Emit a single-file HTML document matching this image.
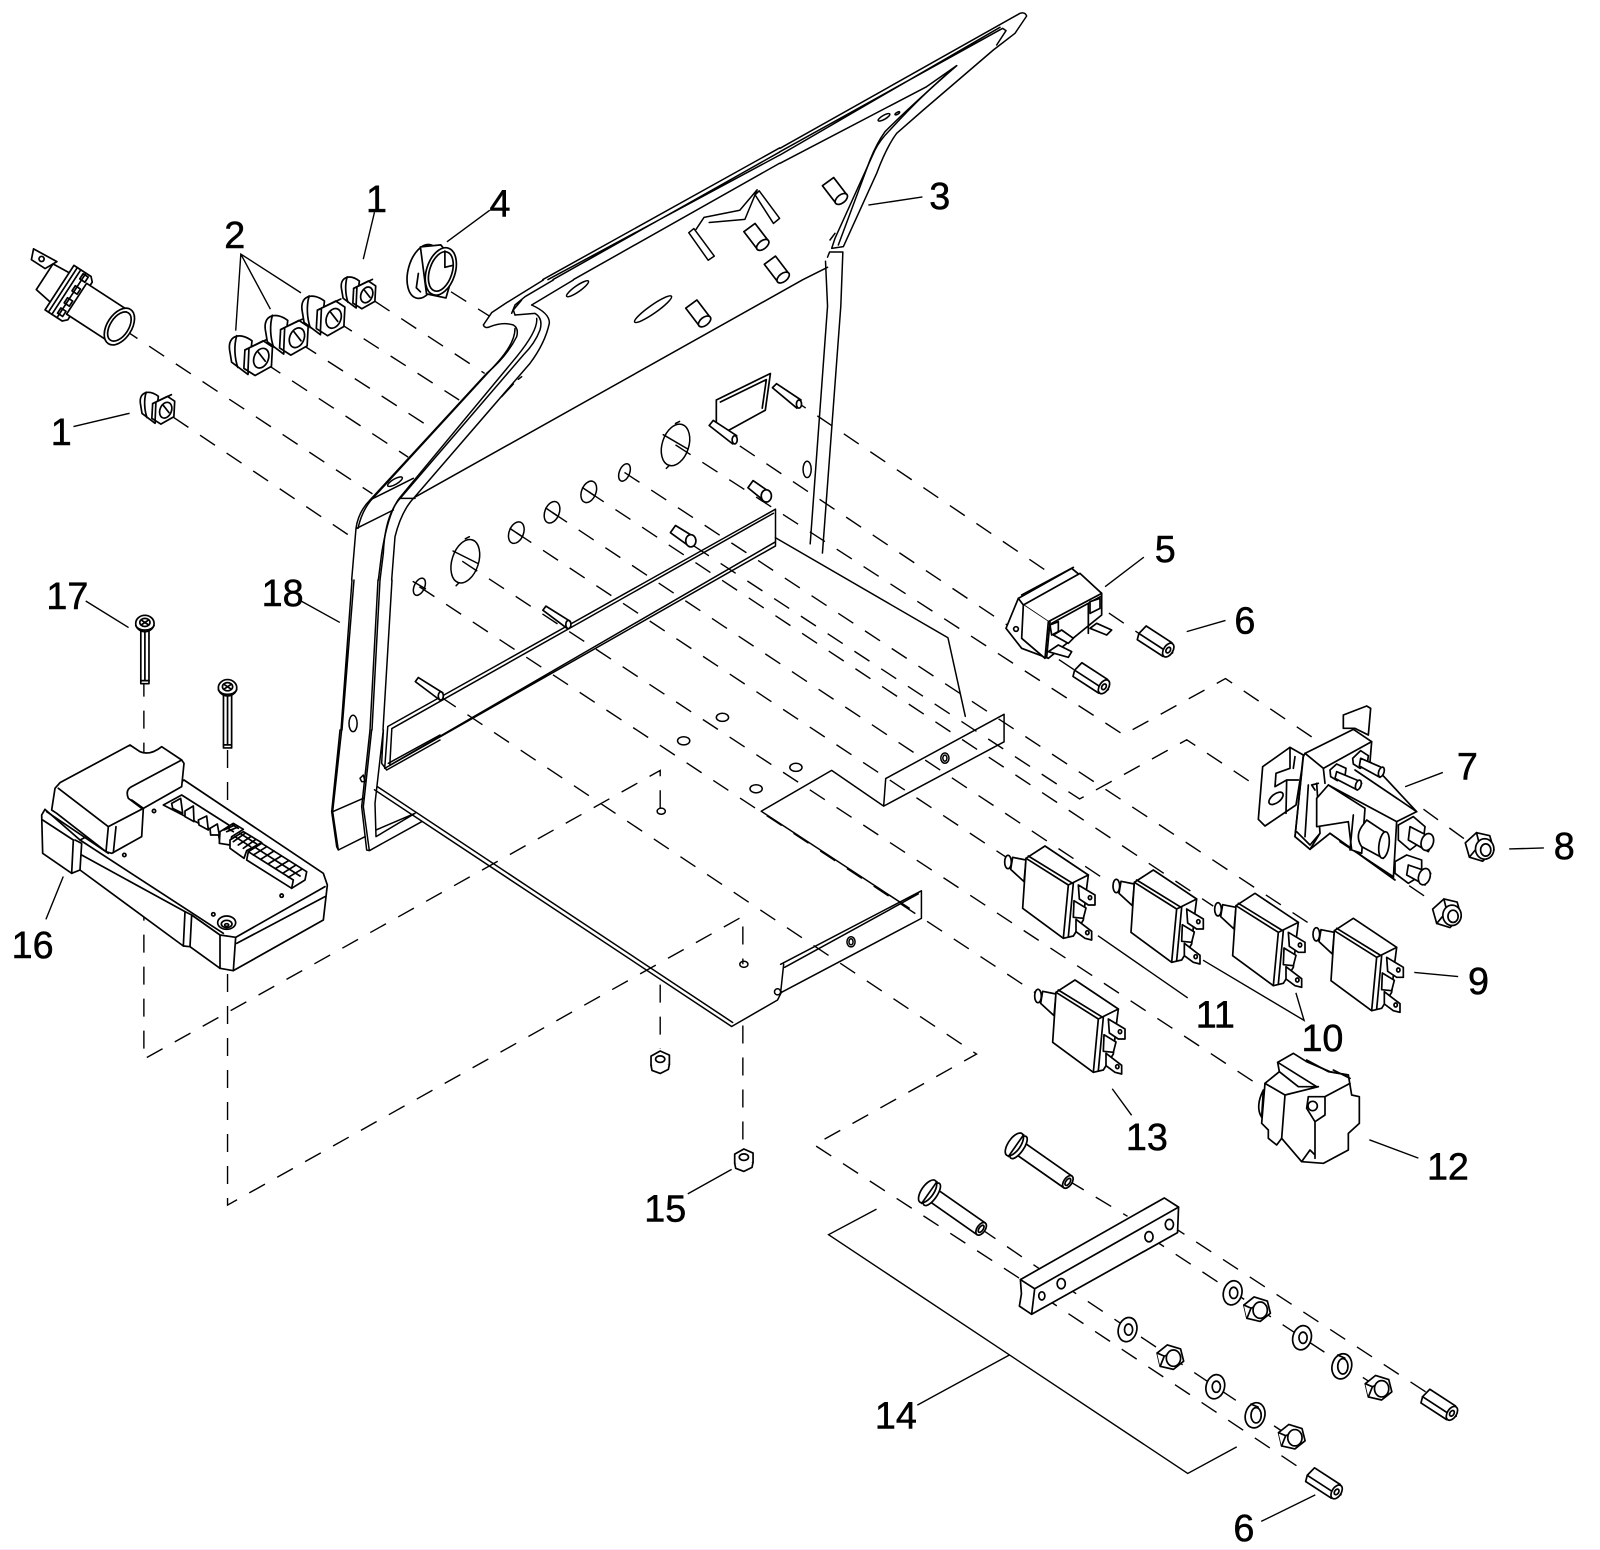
<!DOCTYPE html>
<html><head><meta charset="utf-8"><style>
html,body{margin:0;padding:0;background:#fff}
svg{display:block}
svg *{vector-effect:non-scaling-stroke}
.d{fill:none;stroke:#000;stroke-width:1.4;stroke-dasharray:18 14}
.l{fill:none;stroke:#000;stroke-width:1.4}
.p{fill:none;stroke:#000;stroke-width:1.5;stroke-linejoin:round;stroke-linecap:round}
.w{fill:#fff;stroke:#000;stroke-width:1.7;stroke-linejoin:round;stroke-linecap:round}
.w path,.w polygon,.w ellipse,.w circle,.w rect{fill:#fff}
.w path.n{fill:none}
text{font-family:"Liberation Sans",sans-serif;font-size:37px;fill:#000;stroke:#000;stroke-width:.5;text-anchor:middle}
</style></head><body>
<svg width="1600" height="1550" viewBox="0 0 1600 1550" xmlns="http://www.w3.org/2000/svg">
<defs>
<g id="bush"><path d="M-6-17C-18-26-30-22-28-8L-26 4-10 16Z"/><path class="n" d="M-21-22C-24-12-23 0-20 9"/><polygon points="-13,-8 5,-17 14,-11 13,8 -3,17 -14,10"/><path class="n" d="M-9-10L-10 13M-13-8L-9-10 10-19"/><ellipse cx="3" cy="0" rx="7" ry="10" transform="rotate(22 3 0)"/><path class="n" d="M0-6L7 3"/></g>
<g id="cyl"><path d="M-11-3L0-11 13 6 2 14Z"/><ellipse cx="7.500" cy="10" rx="7" ry="4" transform="rotate(-38 7.500 10)"/></g>
<g id="nut"><polygon points="-9,-4 0,-9 9,-5 9,4 0,9 -9,5"/><path class="n" d="M-9 5L-8 10 0 13 8 9 9 4"/><ellipse cx="0" cy="-1" rx="4.500" ry="3.200"/></g>
<g id="lnut"><polygon points="-15,-4 -4,-14 9,-11 13,3 2,14 -11,10"/><path class="n" d="M-4-14L-1-2-11 10M-1-2L13 3"/><ellipse cx="4" cy="2" rx="9" ry="10"/><ellipse cx="5" cy="3" rx="5" ry="6"/></g>
<g id="hex"><polygon points="-13,-4 -3,-12 10,-8 13,4 3,12 -10,9"/><path class="n" d="M-13-4L-6-1-10 9M-6-1L-1-3"/><ellipse cx="3" cy="1" rx="7" ry="8"/></g>
<g id="wash"><ellipse rx="9" ry="12" transform="rotate(15)"/><ellipse cx="1" rx="4" ry="5.500"/></g>
<g id="lock"><ellipse rx="9.500" ry="12.500" transform="rotate(15)"/><ellipse cx="1" rx="5" ry="7.500"/><path class="n" d="M-4-11L3-8"/></g>
<g id="stand"><path d="M-18-8L12-8 18 0 12 8-18 8-20 2Z"/><path class="n" d="M-20 2L12 2"/><ellipse cx="13" rx="4.500" ry="7.500"/><ellipse cx="13" rx="2" ry="3"/></g>
<g id="bolt"><path d="M0-7L58-7 58 7 0 7Z"/><ellipse cx="58" rx="4" ry="7"/><ellipse cx="58" rx="2" ry="4"/><ellipse cx="-1" rx="5" ry="13"/><ellipse cx="-6" rx="6" ry="13"/><path class="n" d="M-4-13L-4 13"/></g>
<g id="screw"><rect x="-4" y="4" width="8" height="55"/><path class="n" d="M-4 56H4M0 6V56"/><ellipse rx="9" ry="8"/><path class="n" d="M-9 2C-6 8 6 8 9 2"/><ellipse cy="-1" rx="5" ry="4"/><path class="n" d="M-3-3L3 1M3-3L-3 1"/></g>
<g id="brk">
<ellipse cx="24" cy="96" rx="10" ry="20"/>
<path d="M38 82L78 90 72 155 32 118Z"/>
<path d="M78 85L135 48 265 135 258 190 250 270 220 318 190 325 68 235Z"/>
<path class="n" d="M78 85L205 165 190 325M85 78L215 158M205 165L265 135M220 160L205 320"/>
<path d="M235 165L285 195 285 225 265 225 238 207Z"/>
<ellipse cx="270" cy="203" rx="5" ry="6"/>
<path d="M222 212L258 234 250 265 220 262Z"/>
<path d="M228 268L275 304 275 330 255 325 228 305Z"/>
<ellipse cx="262" cy="308" rx="5" ry="6"/>
</g>
</defs>
<rect width="1600" height="1550" fill="#fff"/>
<rect x="0" y="1549" width="1600" height="1" fill="#fbe6fb"/>

<g transform="scale(1.0204)">
<!-- dashed -->
<path class="d" d="M120 322L365 484M170 409L347 528M260 356L400 448M295 337L425 421M330 315L450 392M367 295L475 366M442 286L480 310
M775 390L1118 622M725 437L1058 660M662 436L1101 720 1201 665 1300 732M680 535L1058 783 1163 725 1228 768
M1395 793L1439 825M1381 868L1406 885
M411 575L1024 979M453 550L1236 1065M506 522L989 842M541 502L1089 866M577 482L1189 888M612 463L1286 907
M432 683L957 1033 798 1122 1001 1254M961 1204L1040 1258M1047 1157L1105 1192
M1040 1258L1266 1409M1021 1270L1294 1452M1126 1212L1351 1360M1146 1200L1414 1375
M141 665V1038L647 755V795M647 965V1028M223 735V1181L728 898V945M728 1005V1125"/>

<!-- panel and floor -->
<g class="p">
<path d="M532 274L764 145M542 274L764 149M537 274L764 152M562 274L764 160"/>
<path d="M407 487L787 274 811 262M811 252L813 247 826 247 824 300 806 542M809 256L811 300 794 533"/>
<path d="M367 774L717 1006 762 980 766 972M370 771L718 1002"/>
<path d="M765 945L903 873 903 900 765 973 768 945M769 948L900 876"/>
<path d="M380 712L760 499 760 535 377 753ZM384 714L382 750M384 714L758 503M382 750L760 531"/>
<path d="M760 527L929 625 946 702M868 763L984 700 984 727 866 790 868 763M866 790L815 755 746 795 891 890"/>
<ellipse cx="411" cy="575" rx="5" ry="9" transform="rotate(25 411 575)"/><path d="M405 570L417 577"/>
<ellipse cx="456" cy="550" rx="13" ry="22" transform="rotate(18 456 550)"/><path d="M444 540L468 552M456 528L460 526M450 571L447 574"/>
<ellipse cx="506" cy="522" rx="7" ry="11" transform="rotate(22 506 522)"/><path d="M500 518L512 526"/>
<ellipse cx="541" cy="502" rx="7" ry="11" transform="rotate(22 541 502)"/><path d="M535 498L547 506"/>
<ellipse cx="577" cy="482" rx="7" ry="11" transform="rotate(22 577 482)"/><path d="M571 478L583 486"/>
<ellipse cx="612" cy="463" rx="5" ry="9" transform="rotate(22 612 463)"/>
<ellipse cx="662" cy="436" rx="13" ry="21" transform="rotate(18 662 436)"/><path d="M650 426L674 440M662 415L666 413M656 456L653 459"/>
<ellipse cx="346" cy="709" rx="4" ry="8"/><ellipse cx="791" cy="460" rx="4" ry="8"/>
<ellipse cx="926" cy="743" rx="4" ry="5"/><ellipse cx="926" cy="743" rx="2" ry="3"/><ellipse cx="834" cy="923" rx="4" ry="5"/><ellipse cx="834" cy="923" rx="2" ry="3"/><circle cx="762" cy="972" r="3"/>
<ellipse cx="708" cy="703" rx="6" ry="4"/><ellipse cx="670" cy="726" rx="6" ry="4"/><ellipse cx="780" cy="752" rx="6" ry="4"/><ellipse cx="741" cy="773" rx="6" ry="4"/><ellipse cx="648" cy="795" rx="4" ry="3"/><ellipse cx="729" cy="945" rx="4" ry="3"/>
<ellipse cx="566" cy="283" rx="13" ry="3" transform="rotate(-35 566 283)"/><ellipse cx="640" cy="303" rx="22" ry="4" transform="rotate(-35 640 303)"/>
<path d="M682 225L690 213 725 206 742 186 730 215 695 218"/>
<path d="M675 228L680 224 700 251 694 255ZM740 191L744 187 764 214 758 219Z"/>
</g>
<g class="w">
<use href="#cyl" x="683" y="305"/><use href="#cyl" x="740" y="230"/><use href="#cyl" x="760" y="262"/><use href="#cyl" x="817" y="185"/>
<path class="n" d="M702 392L755 366 750 402 710 424M702 392V417M706 394L751 372 747 400"/>
<path d="M695 417L699 412 722 427 718 435Z"/><ellipse cx="720" cy="431" rx="2.500" ry="4"/>
<path d="M757 380L761 376 785 392 781 400Z"/><ellipse cx="783" cy="396" rx="2.500" ry="4"/>
<path d="M532 598L535 594 559 609 556 616Z"/><ellipse cx="557" cy="612" rx="2.500" ry="4"/>
<path d="M407 668L410 664 434 679 431 686Z"/><ellipse cx="432" cy="682" rx="2.500" ry="4"/>
<path d="M657 522L662 515 680 526 675 535Z"/><ellipse cx="677" cy="530" rx="5" ry="6"/>
<path d="M733 478L738 471 754 482 749 491Z"/><ellipse cx="751" cy="486" rx="5" ry="6"/>
</g>
<!-- leaders -->
<path class="l" d="M367 208L356 254M231 324L236 249 295 287M236 249L265 303M480 206L438 237M72 418L127 405M904 193L851 201M84 589L126 615M295 589L333 610M1121 546L1083 575M1201 608L1163 619M1414 757L1377 771M1513 831L1479 832M1429 957L1386 953M1164 978L1076 917M1179 941L1278 1000 1270 973M1109 1093L1090 1067M1390 1135L1342 1117M859 1185L812 1210 1164 1444 1212 1418M899 1377L989 1328M1236 1491L1289 1465M674 1170L717 1146M45 901L62 859"/>
<!-- small parts -->
<g class="w">
<use href="#bush" x="253" y="351"/><use href="#bush" x="288" y="331"/><use href="#bush" x="324" y="312"/>
<use href="#bush" transform="translate(357 289) scale(.8)"/><use href="#bush" transform="translate(160 402) scale(.8)"/>
<g transform="translate(117 320) rotate(33)">
<path d="M-92-8L-108-8-112-18-86-20Z"/><circle cx="-100" cy="-14" r="2.500"/>
<path d="M-88-16L-62-18-62 18-88 14Z"/>
<path d="M-70-26L-50-26-46-22-46 22-50 26-70 26Z"/>
<path class="n" d="M-66-26V26M-62-26V26M-56-26V26"/>
<path d="M-50-18L0-18 0 18-50 18Z"/>
<path class="n" d="M-58-24h6v6h-6zM-58-10h6v6h-6zM-58 4h6v6h-6zM-58 16h6v6h-6z"/>
<ellipse rx="12" ry="20"/><ellipse rx="9" ry="16"/>
</g>
<ellipse cx="415" cy="266" rx="15" ry="27" transform="rotate(15 415 266)"/>
<path d="M412 242L432 240 447 258 437 292 418 288Z"/>
<ellipse cx="432" cy="266" rx="14" ry="24" transform="rotate(18 432 266)"/>
<ellipse cx="432" cy="266" rx="11" ry="20" transform="rotate(18 432 266)"/>
<path class="n" d="M410 268L408 282 412 286M436 246L436 262 444 260"/>
<use href="#stand" transform="translate(1134 630) rotate(33)"/><use href="#stand" transform="translate(1071 666) rotate(33)"/>
<use href="#lnut" x="1451" y="830"/><use href="#lnut" x="1419" y="895"/>
<use href="#nut" x="647" y="1039"/><use href="#nut" x="729" y="1135"/>
<use href="#screw" x="142" y="611"/><use href="#screw" x="223" y="674"/>
<use href="#bolt" transform="translate(914 1171) rotate(35)"/><use href="#bolt" transform="translate(999 1125) rotate(35)"/>
<path d="M1000 1254L1141 1174 1155 1183 1154 1208 1011 1288 999 1280 1001 1268Z"/>
<path class="n" d="M1000 1254L1014 1263 1155 1183M1014 1263L1011 1288"/>
<ellipse cx="1040" cy="1258" rx="4" ry="5"/><ellipse cx="1021" cy="1270" rx="3" ry="4"/><ellipse cx="1126" cy="1212" rx="4" ry="5"/><ellipse cx="1146" cy="1200" rx="4" ry="5"/>
<use href="#wash" x="1208" y="1267"/><use href="#wash" x="1276" y="1311"/><use href="#wash" x="1105" y="1303"/><use href="#wash" x="1191" y="1359"/>
<use href="#lock" x="1315" y="1339"/><use href="#lock" x="1230" y="1387"/>
<use href="#hex" x="1232" y="1283"/><use href="#hex" x="1351" y="1360"/><use href="#hex" x="1147" y="1330"/><use href="#hex" x="1266" y="1408"/>
<use href="#stand" transform="translate(1412 1378) rotate(33)"/><use href="#stand" transform="translate(1299 1455) rotate(33)"/>
</g>
<!-- labels -->
<text x="369" y="208">1</text><text x="230" y="243">2</text><text x="490" y="212">4</text><text x="921" y="205">3</text>
<text x="60" y="436">1</text><text x="1142" y="551">5</text><text x="1220" y="621">6</text><text x="1438" y="764">7</text>
<text x="1533" y="842">8</text><text x="1449" y="974">9</text><text x="1296" y="1030">10</text><text x="1191" y="1007">11</text>
<text x="1419" y="1156">12</text><text x="1124" y="1127">13</text><text x="878" y="1400">14</text><text x="652" y="1197">15</text>
<text x="32" y="939">16</text><text x="66" y="597">17</text><text x="277" y="594">18</text><text x="1219" y="1510">6</text>
</g>

<!-- panel uprights in source px -->
<path class="p" d="M352 580L341 730M354 580L342 730M378 580L370 730M380 580L372 730M392 580L383 730"/>

<!-- hook and diagonal flanges -->
<g class="p" transform="translate(340 280) scale(.33333)">
<path d="M610 0L500 68 455 98 430 135Q435 147 450 140Q490 125 520 135Q537 145 530 170Q500 230 440 280L90 660Q55 695 48 745L35 900"/>
<path d="M525 145Q525 190 470 250L92 662Q65 695 54 745"/>
<path d="M525 105L585 100Q610 115 600 150Q585 190 550 225L185 650Q135 700 130 820L120 900"/>
<path d="M575 75Q630 100 628 130Q615 190 570 250L225 650Q185 690 165 770L155 900"/>
<path d="M590 115Q595 150 530 230L180 652Q145 695 125 820L115 900"/>
<path d="M525 105L520 90 545 60M515 100L525 75 555 50 640 0M575 75L700 0"/>
<path d="M50 745L160 690M90 660L220 595M180 655L225 655"/>
<ellipse cx="165" cy="605" rx="25" ry="8" transform="rotate(-30 165 605)"/>
<path d="M485 350L520 312M535 298L545 290"/>
</g>

<!-- top right flange -->
<g class="p" transform="translate(780 0) scale(.33333)">
<path d="M0 445L720 40Q735 35 740 48L705 100 640 150 430 330 350 400Q320 440 290 520L190 740 155 745 165 715 285 450Q300 420 330 390Q430 280 530 197L440 260 0 490"/>
<path d="M0 455L668 85 678 92 650 135M0 465L660 82M530 197Q400 310 315 395Q290 430 270 480L175 735M150 720L165 700"/>
<ellipse cx="312" cy="352" rx="20" ry="6" transform="rotate(-30 312 352)"/><ellipse cx="352" cy="340" rx="8" ry="3" transform="rotate(-30 352 340)"/>
</g>

<!-- feet -->
<g class="p" transform="translate(320 730) scale(.33333)">
<path d="M65 0L38 245 55 360 135 320M60 0L35 245 50 350 55 360M38 245L130 205"/>
<path d="M150 0L125 230 140 360 148 362 305 275M155 0L130 230 148 362M190 0L165 220 168 320 285 250M168 300L285 250"/>
<path d="M120 145L130 135 135 155 125 155Z"/>
<path d="M190 0L185 100 200 120 360 30M205 100L360 15"/>
</g>

<!-- part 5 -->
<g class="w" transform="translate(990 550) scale(.33333)">
<path d="M48 235L85 145 245 55 335 130 335 195 175 325 95 295Z"/>
<path d="M100 165L270 70 335 130 175 215Z"/>
<path d="M100 165L95 265 165 325 175 215"/>
<path class="n" d="M85 145L100 165M95 135L250 52M180 215L170 322M185 220L335 138M295 160L295 250"/>
<path d="M180 225L205 215 205 245 185 255Z"/><path d="M300 155L330 145 330 175 300 190Z"/>
<path d="M190 255L215 240 250 265 235 280Z"/><path d="M300 235L320 220 365 240 350 255Z"/><path d="M175 305L205 285 245 305 235 322Z"/>
<circle cx="78" cy="237" r="7"/>
</g>

<!-- ECU -->
<g class="w" transform="translate(30 730) scale(.33333)">
<path d="M45 238L35 255 38 370 125 430 150 420 460 648 480 650 570 715 610 722 880 570 892 465 880 430 462 150 340 235 150 330Z"/>
<path class="n" d="M38 270L130 330 125 430M135 330L155 340 150 420M155 375L465 545 460 648M465 545L485 555 480 650M485 555L570 615 617 622 885 470M570 615L570 715M617 622L610 722M620 640L885 500M50 245L235 370M150 330L580 610"/>
<path d="M90 158L300 45 330 65Q360 78 395 50L455 90 462 100 455 170 340 235 335 320 245 370 228 365 80 250 65 240 75 175Z"/>
<path class="n" d="M85 175L235 290 340 235M235 290L228 365M258 290L250 368M305 170L455 90M305 170Q285 180 295 205L335 235M305 210L340 235"/>
<path d="M400 225L455 195 620 300 570 340 565 310Z"/>
<path d="M425 220L452 205 458 250 428 235ZM465 243L490 228 492 275 465 260ZM505 270L530 258 535 300 507 285ZM540 295L562 282 568 315 542 315Z"/>
<path d="M570 305L610 280 640 298 605 320 600 345 568 340Z"/>
<path class="n" d="M590 293L610 305M605 283L625 295M582 300L615 285M590 305L622 292"/>
<path d="M600 330L640 305 695 338 650 362 642 385 600 355Z"/>
<path class="n" d="M615 320L662 350M630 310L680 342M610 335L645 310M625 345L662 320M640 355L675 330"/>
<path d="M655 365L695 340 830 425 825 450 785 475 650 390Z"/>
<path class="n" d="M675 352L810 438M655 365L790 450 785 475M670 375L710 350M692 388L732 363M714 402L754 378M736 416L776 392M758 430L798 405M775 442L815 418"/>
<circle cx="372" cy="243" r="5"/><circle cx="283" cy="375" r="5"/><circle cx="755" cy="497" r="5"/><circle cx="550" cy="553" r="5"/>
<ellipse cx="590" cy="578" rx="27" ry="20"/><ellipse cx="590" cy="582" rx="16" ry="11"/><ellipse cx="590" cy="585" rx="6" ry="4"/>
</g>

<!-- solenoid -->
<g class="w" transform="translate(1240 690) scale(.33333)">
<path d="M310 75L380 48 392 55 385 135 345 115 310 115Z"/>
<path d="M68 230L150 172 190 195 185 240 168 345 75 408 55 388Z"/>
<path class="n" d="M150 172L150 235 108 250 105 290 140 270 175 270M140 270L138 370M165 200L160 235"/>
<ellipse cx="108" cy="325" rx="25" ry="13" transform="rotate(-38 108 325)"/>
<path d="M195 190L340 118 395 155 390 215 530 365 470 395 460 565 270 430 210 478 165 440 190 200Z"/>
<path class="n" d="M195 190L250 235 395 155M250 235L255 280M345 240L530 365M265 285L470 395M185 245L165 440M230 280L240 430 210 478M205 285L195 440M170 425L210 465 240 430M270 430L465 570M300 455L460 560"/>
<path d="M230 325L265 285 375 355 365 490 335 480 325 395 230 410Z"/>
<path class="n" d="M340 375L330 480M225 300L215 285 235 280"/>
<path d="M365 410Q345 440 365 470L430 505 440 430 380 390Z"/>
<ellipse cx="432" cy="465" rx="15" ry="40" transform="rotate(8 432 465)"/>
<polygon points="475,405 520,380 555,410 550,450 510,480 475,450"/>
<path d="M510 410L568 440 580 450 565 485 505 450Z"/><ellipse cx="562" cy="456" rx="18" ry="26" transform="rotate(18 562 456)"/>
<polygon points="465,515 500,495 545,510 545,555 505,580 465,550"/>
<path d="M505 525L555 542 572 550 555 585 500 555Z"/><ellipse cx="553" cy="560" rx="17" ry="25" transform="rotate(18 553 560)"/>
<polygon points="270,240 290,222 318,235 315,258 292,272 272,260"/>
<path d="M290 245L350 270 365 280 352 300 285 265Z"/><ellipse cx="355" cy="285" rx="8" ry="15" transform="rotate(18 355 285)"/>
<polygon points="338,205 362,182 385,197 382,222 360,235 340,222"/>
<path d="M362 205L420 230 433 240 420 262 358 228Z"/><ellipse cx="424" cy="246" rx="8" ry="15" transform="rotate(18 424 246)"/>
</g>

<!-- breakers and part 12 -->
<g class="w" transform="translate(1000 830) scale(.33333)">
<use href="#brk"/><use href="#brk" x="325" y="72"/><use href="#brk" x="630" y="142"/><use href="#brk" x="925" y="217"/><use href="#brk" x="90" y="402"/>
<path d="M790 780Q765 830 785 862Z"/>
<path d="M785 880L795 760 838 725 833 697 880 670 920 695 990 725 1045 735 1055 795 1078 800 1078 880 1045 910 1045 960 970 1000 905 995 845 925 830 945 805 925 805 900Z"/>
<path class="n" d="M795 760L855 795 845 925M855 795L955 770M838 725L895 770 955 770M833 697L950 770M945 875L945 985M975 800L1050 760M975 800L975 855 945 875 920 835 925 800 975 800M905 995L930 960 945 975M920 690L985 725 1045 735M1000 720L1050 745"/>
<circle cx="938" cy="828" r="14"/>
</g>
</svg>
</body></html>
